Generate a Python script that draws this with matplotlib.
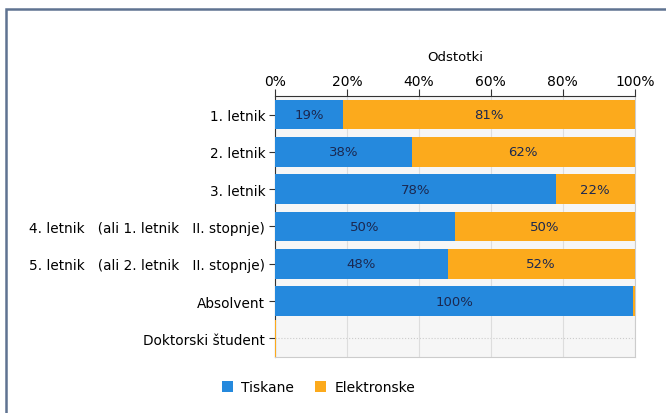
import matplotlib.pyplot as plt
from matplotlib.patches import Rectangle

# data
categories = ['1. letnik', '2. letnik', '3. letnik',
              '4. letnik   (ali 1. letnik   II. stopnje)',
              '5. letnik   (ali 2. letnik   II. stopnje)',
              'Absolvent', 'Doktorski študent']
tiskane = [19, 38, 78, 50, 48, 99.6, 0]
elektronske = [81, 62, 22, 50, 52, 0.4, 0]
label_t = ['19%', '38%', '78%', '50%', '48%', '100%', '']
label_e = ['81%', '62%', '22%', '50%', '52%', '', '']
ticks = [0, 20, 40, 60, 80, 100]

blue = '#2589dd'
orange = '#fcaa1c'
txt = '#1b2850'

plt.rcParams['font.family'] = 'DejaVu Sans'
fig = plt.figure(figsize=(6.66, 4.14), dpi=100)
ax = fig.add_axes([0.413, 0.135, 0.54, 0.631])
ax.set_facecolor('#f6f6f6')

y = list(range(len(categories)))
ax.barh(y, tiskane, height=0.8, color=blue, label='Tiskane', zorder=3)
ax.barh(y, elektronske, left=tiskane, height=0.8, color=orange, label='Elektronske', zorder=3)
# thin orange line for the empty row
ax.barh(6, 0.3, height=1.0, color=orange, zorder=3)

for i in y:
    if label_t[i]:
        ax.text(tiskane[i] / 2, i, label_t[i], ha='center', va='center', fontsize=9.5, color=txt, zorder=4)
    if label_e[i]:
        ax.text(tiskane[i] + elektronske[i] / 2, i, label_e[i], ha='center', va='center', fontsize=9.5, color=txt, zorder=4)

ax.set_xlim(0, 100)
ax.set_ylim(6.5, -0.5)
ax.set_yticks(y)
ax.set_yticklabels(categories, fontsize=9.8)
ax.xaxis.tick_top()
ax.xaxis.set_label_position('top')
ax.set_xticks(ticks)
ax.set_xticklabels([f'{t}%' for t in ticks], fontsize=10)
ax.set_xlabel('Odstotki', fontsize=9.5, labelpad=10)
ax.tick_params(axis='x', length=5, color='#333333', pad=1)
ax.tick_params(axis='y', length=4, color='#333333', pad=3)
ax.grid(axis='x', color='#dddddd', linewidth=0.8, zorder=0)
ax.axhline(6, color='#cccccc', linestyle=':', linewidth=0.8, zorder=1)

for s in ['right', 'bottom']:
    ax.spines[s].set_color('#cccccc')
ax.spines['left'].set_color('#333333')
ax.spines['top'].set_color('#333333')

ax.legend(loc='upper center', bbox_to_anchor=(0.12, -0.04), ncol=2, frameon=False,
          fontsize=10, handlelength=0.8, handleheight=0.8, columnspacing=1.5, handletextpad=0.6)

# outer frame
fig.patches.append(Rectangle((6 / 666, -0.1), 1.0, 1 - 10 / 414 + 0.1, transform=fig.transFigure,
                             fill=False, edgecolor='#5f7391', linewidth=1.8))

fig.savefig('out.png', dpi=100)
